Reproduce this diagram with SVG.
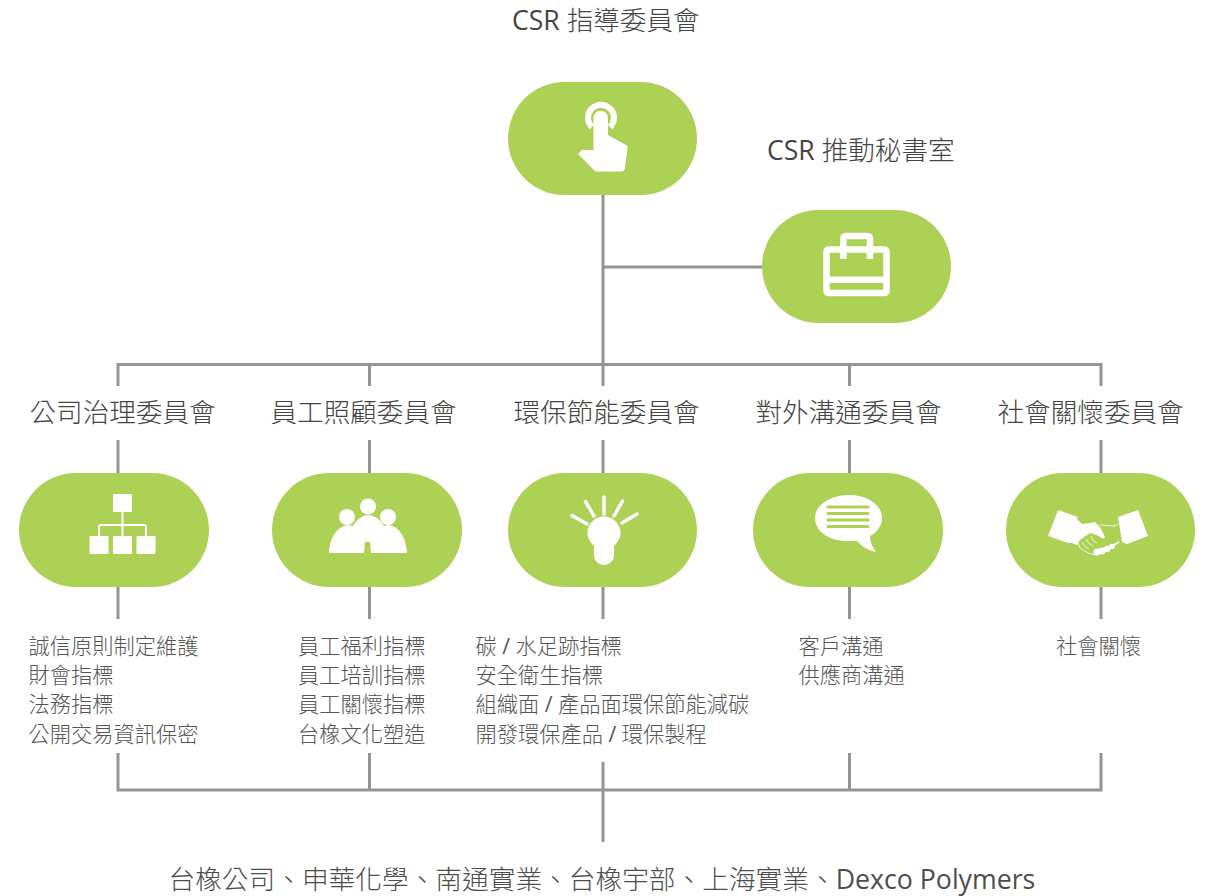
<svg xmlns="http://www.w3.org/2000/svg" width="1205" height="896" viewBox="0 0 1205 896">
<style>
text{font-family:"Open Sans","Noto Sans CJK TC",sans-serif;font-weight:300;}
.l{font-weight:400;}
.h{font-size:26.600px;fill:#444;}
.t{font-size:21.250px;fill:#555;}
.b{font-size:26.700px;fill:#4d4d4d;}
.pill{fill:#add155;}
.ic{fill:#fff;}
.is{fill:none;stroke:#fff;stroke-linecap:round;}
.c{fill:none;stroke:#949494;stroke-width:3;}
</style>
<rect width="1205" height="896" fill="#fff"/>
<g id="connectors">
<path class="c" d="M603 195V386M603 267H762M118 386V364.500H1101V386M369.500 364.500V386M849.500 364.500V386"/>
<path class="c" d="M118 440V473M369.500 440V473M603 440V473M849.500 440V473M1101 440V473"/>
<path class="c" d="M118 587V619M369.500 587V619M603 587V619M849.500 587V619M1101 587V619"/>
<path class="c" d="M118 753V790H1101V753M369.500 753V790M849.500 753V790M603 762V842"/>
</g>
<g id="title-top"><text class="h" x="512" y="30"><tspan class="l">CSR</tspan> 指導委員會</text></g>
<g id="node-top">
<rect class="pill" x="508" y="82" width="189" height="113" rx="56.500"/>
<path d="M591.900 127A13 13 0 1 1 610.100 127" fill="none" stroke="#fff" stroke-width="6"/>
<path class="ic" d="M593.500 118A7.250 7.250 0 0 1 608 118V135L627.700 146L625 168Q624.500 171.500 621 171.500H597Q595 171.500 594 170L578 154L581.600 150L593.500 150Z"/>
</g>
<g id="title-sec"><text class="h" x="767" y="160"><tspan class="l">CSR</tspan> 推動秘書室</text></g>
<g id="node-sec">
<rect class="pill" x="762" y="210" width="189" height="113" rx="56.500"/>
<path d="M829 249.500H884Q886.500 249.500 886.500 252V290.500Q886.500 293 884 293H829Q826.500 293 826.500 290.500V252Q826.500 249.500 829 249.500ZM826.500 279.700H886.500" fill="none" stroke="#fff" stroke-width="6.500"/>
<path d="M843.400 259V239Q843.400 236 846.400 236H867Q870 236 870 239V259" fill="none" stroke="#fff" stroke-width="6.500"/>
</g>
<g id="node-gov">
<text class="h" x="29.500" y="422">公司治理委員會</text>
<rect class="pill" x="19" y="473" width="190" height="114" rx="57"/>
<rect class="ic" x="113" y="494" width="19" height="18" rx="1"/>
<rect class="ic" x="89.500" y="536" width="19" height="18" rx="1"/>
<rect class="ic" x="113" y="536" width="19" height="18" rx="1"/>
<rect class="ic" x="136.500" y="536" width="19" height="18" rx="1"/>
<path class="is" stroke-width="2" d="M122.500 512V536M99 536V527Q99 525 101 525H144Q146 525 146 527V536"/>
<text class="t" x="28.500" y="654">誠信原則制定維護</text>
<text class="t" x="28.500" y="683">財會指標</text>
<text class="t" x="28.500" y="712">法務指標</text>
<text class="t" x="28.500" y="742">公開交易資訊保密</text>
</g>
<g id="node-emp">
<text class="h" x="270.500" y="422">員工照顧委員會</text>
<rect class="pill" x="272" y="473" width="190" height="114" rx="57"/>
<circle class="ic" cx="347" cy="517" r="8"/><circle class="ic" cx="368" cy="506.500" r="8"/><circle class="ic" cx="388" cy="517" r="8"/>
<path class="ic" d="M329 553C330 537 337 526 349 525L353 526C357 519 363 515 368 515C374 515 380 519 384 526L388 525C399 526 406 537 407 553H371L370 542H365L364 553Z"/>
<text class="t" x="298" y="654">員工福利指標</text>
<text class="t" x="298" y="683">員工培訓指標</text>
<text class="t" x="298" y="712">員工關懷指標</text>
<text class="t" x="298" y="742">台橡文化塑造</text>
</g>
<g id="node-env">
<text class="h" x="513.500" y="422">環保節能委員會</text>
<rect class="pill" x="508" y="473" width="189" height="114" rx="57"/>
<path class="ic" d="M604 516.500C613 516.500 620.500 524 620.500 532.500C620.500 538 618 542 614 546V555C614 561 609 565 604 565C599 565 594 561 594 555V546C590 542 587.500 538 587.500 532.500C587.500 524 595 516.500 604 516.500Z"/>
<path class="is" stroke-width="3.500" d="M604 497V514M585.500 501.500L594 516M622.500 501L614 516M572 515.500L587 524M637 514L622 523"/>
<text class="t" x="475.500" y="654">碳 <tspan class="l">/</tspan> 水足跡指標</text>
<text class="t" x="475.500" y="683">安全衛生指標</text>
<text class="t" x="475.500" y="712">組織面 <tspan class="l">/</tspan> 產品面環保節能減碳</text>
<text class="t" x="475.500" y="742">開發環保產品 <tspan class="l">/</tspan> 環保製程</text>
</g>
<g id="node-com">
<text class="h" x="755.500" y="422">對外溝通委員會</text>
<rect class="pill" x="753" y="473" width="190" height="114" rx="57"/>
<path class="ic" d="M849 495C866 495 882 504 882 518C882 526 877 532 870 536C870 542 873 548 876 552C868 550 861 546 857 541C853 541 851 541 847 541C830 541 815 532 815 518C815 504 832 495 849 495Z"/>
<path d="M828 507H868M828 513.500H868M828 520H868M828 526.500H868" stroke="#add155" stroke-width="3" stroke-linecap="round" fill="none"/>
<text class="t" x="798.500" y="654">客戶溝通</text>
<text class="t" x="798.500" y="683">供應商溝通</text>
</g>
<g id="node-soc">
<text class="h" x="997.500" y="422">社會關懷委員會</text>
<rect class="pill" x="1006" y="473" width="189" height="114" rx="57"/>
<path class="ic" d="M1058 510L1078 517L1077 519L1082 524L1090 523L1095 522L1100 527L1105 537L1103 539L1097 535L1090 533L1080 540L1077 545L1072 543L1068 543L1048 536Z"/>
<path class="ic" d="M1118 517L1138 510L1148 536L1127 544L1122 542Z"/>
<path d="M1100 525L1115 526L1118 524M1078 543L1080 548L1088 553L1095 555M1082 542Q1085 548 1089 549M1086 539Q1088 544 1093 546M1091 536Q1092 541 1097 543" fill="none" stroke="#fff" stroke-width="0.800"/>
<circle class="ic" cx="1097" cy="552" r="3.500"/><circle class="ic" cx="1102" cy="551" r="3.500"/><circle class="ic" cx="1107" cy="549" r="3.200"/><circle class="ic" cx="1112" cy="546.500" r="2.800"/>
<path d="M1114 545L1119 542" stroke="#fff" stroke-width="2" fill="none"/>
<text class="t" x="1056" y="654">社會關懷</text>
</g>
<g id="footer"><text class="b" x="168.500" y="889">台橡公司、申華化學、南通實業、台橡宇部、上海實業、<tspan class="l">Dexco Polymers</tspan></text></g>
</svg>
